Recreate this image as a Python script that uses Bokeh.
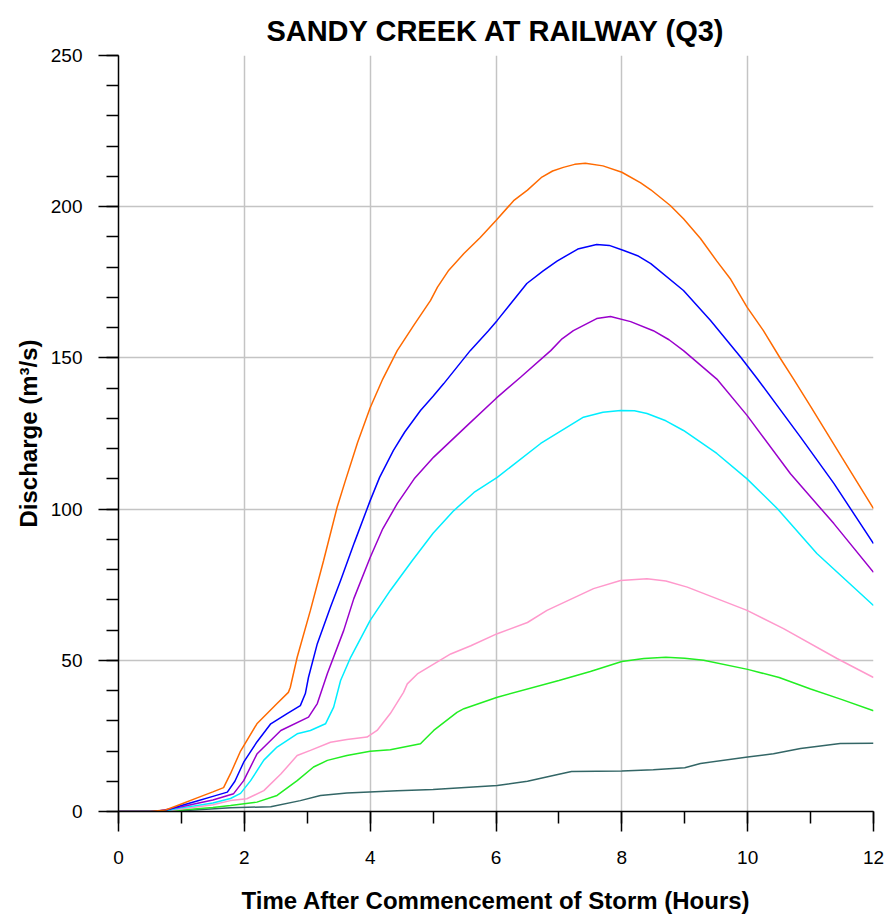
from bokeh.plotting import figure
from bokeh.models import SingleIntervalTicker, Range1d
from bokeh.embed import file_html
from bokeh.resources import INLINE

# Discharge hydrographs (m3/s) against time after commencement of storm (hours)
t_orange = [0, 0.5, 0.75, 1.0, 1.25, 1.5, 1.67, 1.78, 1.94, 2.2, 2.52, 2.7, 2.73, 2.84, 3.05,
            3.26, 3.475, 3.6, 3.8, 4.0, 4.2, 4.43, 4.7, 4.96, 5.07, 5.25, 5.49, 5.75, 6.0,
            6.28, 6.5, 6.73, 6.9, 7.07, 7.25, 7.42, 7.7, 8.0, 8.3, 8.46, 8.77, 8.98, 9.25, 9.51,
            9.73, 9.99, 10.25, 10.52, 10.73, 11.0, 11.5, 12.0]
q_orange = [0, 0, 0.5, 2.5, 4.5, 6.5, 7.9, 12.5, 20, 29, 35.7, 39.4, 41, 51, 66.5,
            83, 100.6, 109, 122, 133.5, 143, 152.4, 161, 169, 173.4, 179, 184.5, 189.8, 195.4,
            202, 205.5, 209.8, 211.8, 213, 214, 214.4, 213.5, 211.4, 207.9, 205.6, 200.4, 196, 189.5, 182,
            176, 166.8, 159, 149.8, 143, 134, 117, 100.2]

t_blue = [0, 0.5, 0.75, 1.0, 1.25, 1.5, 1.73, 1.85, 1.99, 2.2, 2.42, 2.68, 2.89, 2.97, 3.02,
          3.16, 3.37, 3.53, 3.75, 4.0, 4.15, 4.37, 4.55, 4.8, 5.0, 5.17, 5.59, 5.88, 6.02, 6.49,
          6.75, 6.97, 7.3, 7.6, 7.8, 8.03, 8.25, 8.46, 8.98, 9.41, 9.89, 10.15, 10.84, 11.37, 12.0]
q_blue = [0, 0, 0.4, 2, 3.5, 5, 6.4, 10, 16.3, 23, 29, 32.4, 35, 39, 44.4,
          55.5, 67.6, 76.4, 89, 102.8, 110.5, 119.4, 125.5, 132.6, 137.3, 141.5, 152.4, 159, 162.4, 174.6,
          178.8, 182, 186, 187.5, 187.2, 185.5, 183.8, 181.2, 172.3, 162.4, 150.2, 143.2, 123.8, 108.5, 88.6]

t_purple = [0, 0.6, 1.0, 1.5, 1.83, 1.99, 2.2, 2.58, 3.02, 3.16, 3.32, 3.58, 3.74, 4.0, 4.2,
            4.43, 4.7, 5.01, 5.54, 6.0, 6.39, 6.87, 7.05, 7.23, 7.6, 7.82, 8.14, 8.5, 8.75, 8.98,
            9.51, 9.99, 10.68, 11.37, 12.0]
q_purple = [0, 0, 1.6, 3.8, 5.9, 10.2, 19, 26.8, 31.2, 35.7, 45.6, 59.9, 70.4, 84, 93.5,
            101.8, 110.0, 117.2, 127.6, 136.6, 143.6, 152.4, 156.3, 159, 163, 163.7, 162, 159, 156, 152.4,
            143, 131, 111.7, 95.2, 79.1]

t_cyan = [0, 0.7, 1.0, 1.5, 1.78, 1.94, 2.1, 2.31, 2.52, 2.84, 3.05, 3.29, 3.42, 3.53, 3.69,
          4.0, 4.32, 4.67, 5.0, 5.33, 5.65, 6.02, 6.71, 7.39, 7.7, 7.98, 8.2, 8.4, 8.7, 8.98,
          9.51, 9.99, 10.47, 11.1, 12.0]
q_cyan = [0, 0, 1.2, 2.8, 4.3, 6, 10.2, 17, 21.3, 25.7, 26.8, 29, 34.5, 43.3, 51,
          63.2, 73.1, 83, 92, 99.5, 105.5, 110.5, 121.7, 130.4, 132, 132.6, 132.5, 131.6, 129.2, 126,
          118.4, 110, 100.2, 85.3, 68.1]

t_pink = [0, 0.7, 1.0, 1.5, 1.78, 2.04, 2.31, 2.58, 2.84, 3.05, 3.37, 3.63, 3.95, 4.11, 4.32,
          4.53, 4.59, 4.75, 5.28, 5.6, 6.02, 6.5, 6.81, 7.55, 7.98, 8.4, 8.7, 9.04, 9.99, 10.57,
          11.42, 12.0]
q_pink = [0, 0, 0.8, 2.2, 3.6, 4.2, 6.9, 12.4, 18.5, 20.2, 22.9, 23.8, 24.6, 26.8, 32.4,
          39.4, 42.2, 45.5, 52.1, 54.8, 58.8, 62.5, 66.5, 73.7, 76.4, 77, 76.2, 74.2, 66.5, 60.5,
          50.6, 44.3]

t_green = [0, 0.7, 1.0, 1.5, 1.78, 2.2, 2.52, 2.84, 3.1, 3.32, 3.63, 4.0, 4.32, 4.8, 4.85,
           5.01, 5.38, 5.49, 6.02, 7.0, 7.5, 8.0, 8.35, 8.7, 9.0, 9.3, 10.0, 10.5, 11.0, 11.5, 12.0]
q_green = [0, 0, 0.5, 1.3, 2, 3.1, 5.3, 10.2, 14.7, 16.9, 18.5, 19.9, 20.4, 22.4, 23.5,
           26.8, 32.8, 34, 37.8, 43.3, 46.3, 49.6, 50.6, 51, 50.7, 50, 47, 44.3, 40.5, 37, 33.3]

t_slate = [0, 0.8, 1.2, 1.78, 2.42, 2.89, 3.21, 3.63, 4.43, 5.0, 6.02, 6.5, 7.0, 7.2, 8.0,
           8.5, 9.0, 9.25, 10.0, 10.41, 10.84, 11.47, 12.0]
q_slate = [0, 0, 0.5, 1.2, 1.6, 3.6, 5.3, 6.1, 6.9, 7.3, 8.6, 10, 12.3, 13.2, 13.4,
           13.8, 14.5, 15.9, 18, 19.1, 20.8, 22.5, 22.6]

series = [
    (t_slate, q_slate, "#336666"),
    (t_green, q_green, "#22ee22"),
    (t_pink, q_pink, "#ff99cc"),
    (t_cyan, q_cyan, "#00eeff"),
    (t_purple, q_purple, "#9a00cc"),
    (t_blue, q_blue, "#0000ff"),
    (t_orange, q_orange, "#ff6a00"),
]

FONT = "Liberation Sans"

p = figure(width=890, height=918, output_backend="svg", toolbar_location=None,
           x_range=Range1d(0, 12), y_range=Range1d(0, 250),
           min_border_left=118, min_border_right=17, min_border_top=55, min_border_bottom=107,
           title="SANDY CREEK AT RAILWAY (Q3)")

p.title.align = "center"
p.title.text_font = FONT
p.title.text_font_size = "29px"
p.title.text_font_style = "bold"
p.title.text_color = "black"
p.title.standoff = 18

p.outline_line_color = None
p.background_fill_color = "white"
p.border_fill_color = "white"

xt = SingleIntervalTicker(interval=2, num_minor_ticks=2)
yt = SingleIntervalTicker(interval=50, num_minor_ticks=5)
p.xaxis.ticker = xt
p.yaxis.ticker = yt
p.xgrid.ticker = xt
p.ygrid.ticker = yt

for g in (p.xgrid, p.ygrid):
    g.grid_line_color = "#c4c4c4"
    g.grid_line_width = 1.5

for ax in (p.xaxis, p.yaxis):
    ax.axis_line_color = "black"
    ax.axis_line_width = 1.5
    ax.major_tick_line_color = "black"
    ax.major_tick_line_width = 1.5
    ax.minor_tick_line_color = "black"
    ax.minor_tick_line_width = 1.5
    ax.major_tick_in = 0
    ax.major_tick_out = 20
    ax.minor_tick_in = 0
    ax.minor_tick_out = 12
    ax.major_label_text_font = FONT
    ax.major_label_text_font_size = "19px"
    ax.major_label_text_color = "black"
    ax.axis_label_text_font = FONT
    ax.axis_label_text_font_size = "24px"
    ax.axis_label_text_font_style = "bold"
    ax.axis_label_text_color = "black"

p.xaxis.axis_label = "Time After Commencement of Storm (Hours)"
p.yaxis.axis_label = "Discharge (m³/s)"
p.xaxis.major_label_standoff = 19
p.yaxis.major_label_standoff = 16
p.xaxis.axis_label_standoff = 20
p.yaxis.axis_label_standoff = 6

for t, q, c in series:
    p.line(t, q, line_color=c, line_width=1.5)

open("out.html", "w").write(file_html(p, INLINE))
